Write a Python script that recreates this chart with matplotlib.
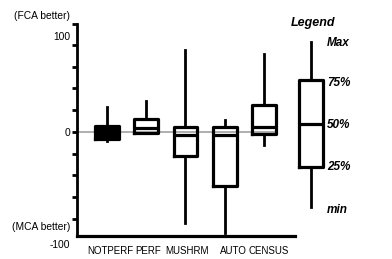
import matplotlib
matplotlib.use('Agg')
import matplotlib.pyplot as plt

plt.rcParams['font.family'] = ['Liberation Sans', 'DejaVu Sans']

# 数据：各数据集的五数概括 (min, 25%, 50%, 75%, max)
names = ['NOTPERF', 'PERF', 'MUSHRM', 'AUTO', 'CENSUS']
v_min = [-10, -1, -105, -116, -15]
v_q1 = [-8, -1, -28, -62, -2]
v_med = [0, 5, -4, -3, 6]
v_q3 = [7, 15, 6, 6, 31]
v_max = [29, 35, 94, 14, 90]

# 图例用的示意箱线
legend_stats = [-86, -40, 9, 60, 103]
legend_labels = ['min', '25%', '50%', '75%', 'Max']

fig = plt.figure(figsize=(3.92, 2.59), dpi=100)
ax = fig.add_axes([77 / 392, 23 / 259, (345 - 77) / 392, (236 - 24) / 259])

stats = []
for i in range(len(names)):
    stats.append(dict(whislo=v_min[i], q1=v_q1[i], med=v_med[i], q3=v_q3[i], whishi=v_max[i]))
lo, q1, med, q3, hi = legend_stats
stats.append(dict(whislo=lo, q1=q1, med=med, q3=q3, whishi=hi))
pos = list(range(1, len(names) + 1)) + [6.2]

# 白色底（NOTPERF 为黑色）
fills = ax.bxp(stats, positions=pos, widths=0.61, patch_artist=True, showcaps=False,
               showfliers=False, boxprops=dict(facecolor='white', edgecolor='none'),
               whiskerprops=dict(linewidth=0), medianprops=dict(linewidth=0),
               manage_ticks=False, zorder=1)
fills['boxes'][0].set_facecolor('black')

# 零线
ax.plot([0.2, 5.3], [0, 0], color='#a8a8a8', linewidth=1.3, zorder=2)

# 黑色边框、中位线和须
ax.bxp(stats, positions=pos, widths=0.61, showcaps=False, showfliers=False,
       boxprops=dict(color='black', linewidth=2.3),
       whiskerprops=dict(color='black', linewidth=2.0),
       medianprops=dict(color='black', linewidth=2.3),
       manage_ticks=False, zorder=3)

ax.set_xlim(0.236, 7.064)
ax.set_ylim(-119.5, 124)

for s in ['top', 'right']:
    ax.spines[s].set_visible(False)
ax.spines['left'].set_linewidth(2)
ax.spines['bottom'].set_linewidth(2.3)
ax.spines['bottom'].set_bounds(0.236, 5.79)

ax.set_yticks([-100, -75, -50, -25, 0, 25, 50, 75, 100, 124])
ax.set_yticklabels([])
ax.tick_params(axis='y', direction='out', length=3.5, width=2)
# 类别标签位置（与原图一致，略偏离箱体中心）
ax.set_xticks([1.08, 2.04, 3.04, 4.21, 5.13])
ax.set_xticklabels(names, fontsize=7)
ax.tick_params(axis='x', length=0, pad=7)

# y 轴文字
tr = ax.get_yaxis_transform()
ytexts = [('(FCA better)', 133), ('100', 109), ('0', -1), ('(MCA better)', -109), ('-100', -130)]
for t, y in ytexts:
    ax.text(-0.026, y, t, transform=tr, ha='right', va='center', fontsize=7.4, clip_on=False)

# 图例文字
ax.text(6.25, 125, 'Legend', ha='center', va='center', fontsize=9, style='italic',
        fontweight='bold', clip_on=False)
for lab, y in zip(legend_labels, [-90, -40, 8, 56, 102]):
    ax.text(6.6, y, lab, ha='left', va='center', fontsize=8.5, style='italic', fontweight='bold')

fig.savefig('out.png', dpi=100)
